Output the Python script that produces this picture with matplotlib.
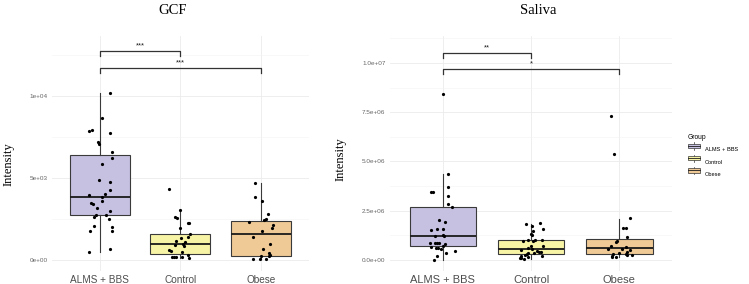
import matplotlib.pyplot as plt
from matplotlib.patches import Patch, Rectangle
from matplotlib.lines import Line2D
from matplotlib.legend_handler import HandlerBase

groups = ['ALMS + BBS', 'Control', 'Obese']
colors = ['#c6c1e0', '#f8f4a6', '#f0ca96']

# --- GCF: box stats (whislo, q1, med, q3, whishi) ---
gcf_box = [(490, 2740, 3840, 6400, 10160),
           (100, 390, 960, 1570, 3050),
           (30, 260, 1570, 2400, 4700)]

gcf_alms = [10160, 8660, 7930, 7870, 7720, 7180, 7070, 6570, 6200, 5840, 4900,
            4780, 4290, 4020, 3960, 3840, 3620, 3450, 3390, 3150, 2970, 2740,
            2740, 2600, 2500, 2070, 2010, 1790, 1750, 690, 490]
gcf_alms_jit = [0.12, 0.03, -0.10, -0.13, 0.13, -0.03, -0.01, 0.15, 0.15, 0.03, -0.01,
                0.12, 0.12, 0.06, -0.13, 0.02, 0.03, -0.11, -0.09, -0.04, 0.13, -0.05,
                0.07, -0.07, 0.11, -0.07, 0.15, -0.12, 0.15, 0.12, -0.13]
gcf_ctrl = [4330, 3050, 2600, 2580, 2240, 2230, 1930, 1570, 1400, 1340, 1180, 1120,
            990, 900, 870, 610, 550, 510, 300, 200, 200, 200, 160, 100]
gcf_ctrl_jit = [-0.14, 0.00, -0.06, -0.04, 0.10, 0.11, -0.01, 0.12, 0.10, 0.01, -0.05, 0.06,
                0.03, -0.07, 0.05, -0.14, -0.11, 0.02, 0.10, -0.08, -0.05, -0.10, 0.02, 0.11]
gcf_obese = [4700, 3840, 3600, 2800, 2500, 2440, 2340, 2130, 1950, 1750, 1400, 990,
             670, 410, 320, 240, 240, 30, 30, 30]
gcf_obese_jit = [-0.07, -0.07, 0.01, 0.09, 0.06, 0.04, -0.14, 0.15, 0.14, 0.02, -0.09, 0.12,
                 0.03, 0.10, 0.11, 0.10, 0.00, -0.09, -0.01, 0.06]

# --- Saliva ---
sal_box = [(0.02e6, 0.73e6, 1.20e6, 2.69e6, 4.37e6),
           (0.06e6, 0.29e6, 0.56e6, 1.00e6, 1.84e6),
           (0.14e6, 0.32e6, 0.59e6, 1.07e6, 2.10e6)]

sal_alms = [8.44, 4.37, 3.69, 3.44, 3.44, 3.23, 2.86, 2.71, 2.01, 1.91, 1.54, 1.56,
            1.56, 1.23, 1.25, 1.20, 0.85, 0.85, 0.85, 0.85, 0.80, 0.70, 0.66, 0.62,
            0.60, 0.58, 0.47, 0.34, 0.19, 0.02]
sal_alms_jit = [0.00, 0.06, 0.06, -0.13, -0.11, 0.06, 0.06, 0.11, -0.04, 0.03, -0.13, -0.06,
                0.00, -0.09, 0.00, 0.01, -0.14, -0.09, -0.06, -0.04, 0.03, 0.00, -0.13, -0.08,
                -0.05, -0.02, 0.14, 0.04, -0.06, -0.10]
sal_ctrl = [1.84, 1.86, 1.74, 1.59, 1.47, 1.34, 1.25, 1.02, 0.95, 1.00, 0.98, 0.99,
            0.73, 0.70, 0.62, 0.57, 0.50, 0.45, 0.41, 0.40, 0.35, 0.33, 0.30, 0.25,
            0.22, 0.20, 0.17, 0.12, 0.10, 0.06]
sal_ctrl_jit = [-0.06, 0.10, 0.01, 0.14, 0.02, 0.00, 0.01, 0.04, -0.09, 0.12, 0.02, -0.03,
                0.13, 0.00, -0.03, 0.01, -0.11, 0.07, 0.09, 0.11, 0.03, -0.03, -0.05, -0.07,
                -0.11, 0.12, -0.04, -0.11, -0.13, -0.08]
sal_obese = [7.31, 5.36, 2.12, 1.61, 1.61, 1.15, 0.96, 0.91, 0.73, 0.66, 0.57, 0.55,
             0.51, 0.42, 0.34, 0.30, 0.28, 0.25, 0.25, 0.20, 0.14, 0.14]
sal_obese_jit = [-0.09, -0.06, 0.12, 0.04, 0.07, 0.09, -0.03, -0.04, -0.09, 0.08, -0.13, 0.03,
                 0.12, 0.09, -0.01, 0.07, -0.07, 0.09, 0.14, -0.08, -0.08, -0.04]

# significance brackets: (group a, group b, height, label)
gcf_sig = [(1, 2, 12740, '***'), (1, 3, 11710, '***')]
sal_sig = [(1, 2, 10.52e6, '**'), (1, 3, 9.70e6, '*')]

plt.rcParams['font.family'] = 'Liberation Sans'
fig = plt.figure(figsize=(7.49, 2.84), dpi=100)


class BoxKey(HandlerBase):
    # small boxplot glyph like the ggplot legend key
    def create_artists(self, legend, orig, xd, yd, width, height, fontsize, trans):
        fc = orig.get_facecolor()
        cx = xd + width / 2
        b0, b1 = yd + height * 0.2, yd + height * 0.8
        rect = Rectangle((xd, b0), width, b1 - b0, facecolor=fc,
                         edgecolor='#333333', lw=0.5, transform=trans)
        med = Line2D([xd, xd + width], [yd + height / 2] * 2, color='#1a1a1a',
                     lw=0.6, transform=trans)
        w1 = Line2D([cx, cx], [yd, b0], color='#333333', lw=0.5, transform=trans)
        w2 = Line2D([cx, cx], [b1, yd + height], color='#333333', lw=0.5, transform=trans)
        return [w1, w2, rect, med]


def panel(rect, box, pts, jits, scale, ylim, major, minor, fmt, sig, lab_size):
    ax = fig.add_axes(rect)
    stats = [dict(whislo=b[0], q1=b[1], med=b[2], q3=b[3], whishi=b[4]) for b in box]
    bp = ax.bxp(stats, positions=[1, 2, 3], widths=0.75, patch_artist=True,
                showfliers=False, showcaps=False,
                boxprops=dict(edgecolor='#3a3a3a', linewidth=0.8),
                whiskerprops=dict(color='#3a3a3a', linewidth=0.8),
                medianprops=dict(color='#1a1a1a', linewidth=1.3))
    for patch, c in zip(bp['boxes'], colors):
        patch.set_facecolor(c)
    for i, (vals, jit) in enumerate(zip(pts, jits)):
        xs = [i + 1 + j for j in jit]
        ys = [v * scale for v in vals]
        ax.plot(xs, ys, 'o', color='black', ms=2.3, mew=0, zorder=4)
    ax.set_xlim(0.4, 3.6)
    ax.set_ylim(*ylim)
    ax.set_xticks([1, 2, 3])
    ax.set_xticklabels(groups, fontsize=lab_size, color='#4d4d4d')
    ax.set_yticks(major)
    ax.set_yticklabels([fmt(v) for v in major], fontsize=4.6, color='#666666')
    ax.set_yticks(minor, minor=True)
    ax.tick_params(length=0, which='both')
    ax.tick_params(axis='y', pad=3)
    ax.tick_params(axis='x', pad=3)
    ax.grid(True, which='major', color='#ebebeb', linewidth=0.6)
    ax.grid(True, which='minor', axis='y', color='#f3f3f3', linewidth=0.4)
    ax.set_axisbelow(True)
    for s in ax.spines.values():
        s.set_visible(False)
    tip = 0.0213 * (ylim[1] - ylim[0])
    for a, b, h, t in sig:
        ax.plot([a, a, b, b], [h - tip, h, h, h - tip], color='#333333', lw=0.9)
        ax.annotate(t, ((a + b) / 2, h), xytext=(0, 1), textcoords='offset points',
                    ha='center', va='bottom', fontsize=5.5, color='#1a1a1a')
    return ax


ax1 = panel([0.069, 0.0458, 0.3435, 0.8275], gcf_box,
            [gcf_alms, gcf_ctrl, gcf_obese], [gcf_alms_jit, gcf_ctrl_jit, gcf_obese_jit],
            1, (-671, 13659), [0, 5000, 10000], [2500, 7500, 12500],
            lambda v: f'{v:.0e}', gcf_sig, 7.2)
ax2 = panel([0.5202, 0.0458, 0.3776, 0.8275], sal_box,
            [sal_alms, sal_ctrl, sal_obese], [sal_alms_jit, sal_ctrl_jit, sal_obese_jit],
            1e6, (-0.558e6, 11.37e6), [0, 2.5e6, 5e6, 7.5e6, 1e7],
            [1.25e6, 3.75e6, 6.25e6, 8.75e6, 11.25e6],
            lambda v: f'{v:.1e}', sal_sig, 8)

fig.text(173 / 749, 1 - 10 / 284, 'GCF', ha='center', va='center',
         family='Liberation Serif', fontsize=10.5)
fig.text(538 / 749, 1 - 10 / 284, 'Saliva', ha='center', va='center',
         family='Liberation Serif', fontsize=10.5)
fig.text(9 / 749, 1 - 164 / 284, 'Intensity', ha='center', va='center', rotation=90,
         family='Liberation Serif', fontsize=9)
fig.text(341 / 749, 1 - 159 / 284, 'Intensity', ha='center', va='center', rotation=90,
         family='Liberation Serif', fontsize=9)

handles = [Patch(facecolor=c) for c in colors]
leg = fig.legend(handles, groups, title='Group', loc='upper left',
                 bbox_to_anchor=(683 / 749, 1 - 129 / 284), frameon=False,
                 fontsize=4.1, title_fontsize=4.8, handlelength=2.1, handleheight=1.6,
                 handletextpad=0.8, labelspacing=0.85,
                 handler_map={Patch: BoxKey()})
leg._legend_box.align = 'left'

fig.savefig('out.png', dpi=100)
